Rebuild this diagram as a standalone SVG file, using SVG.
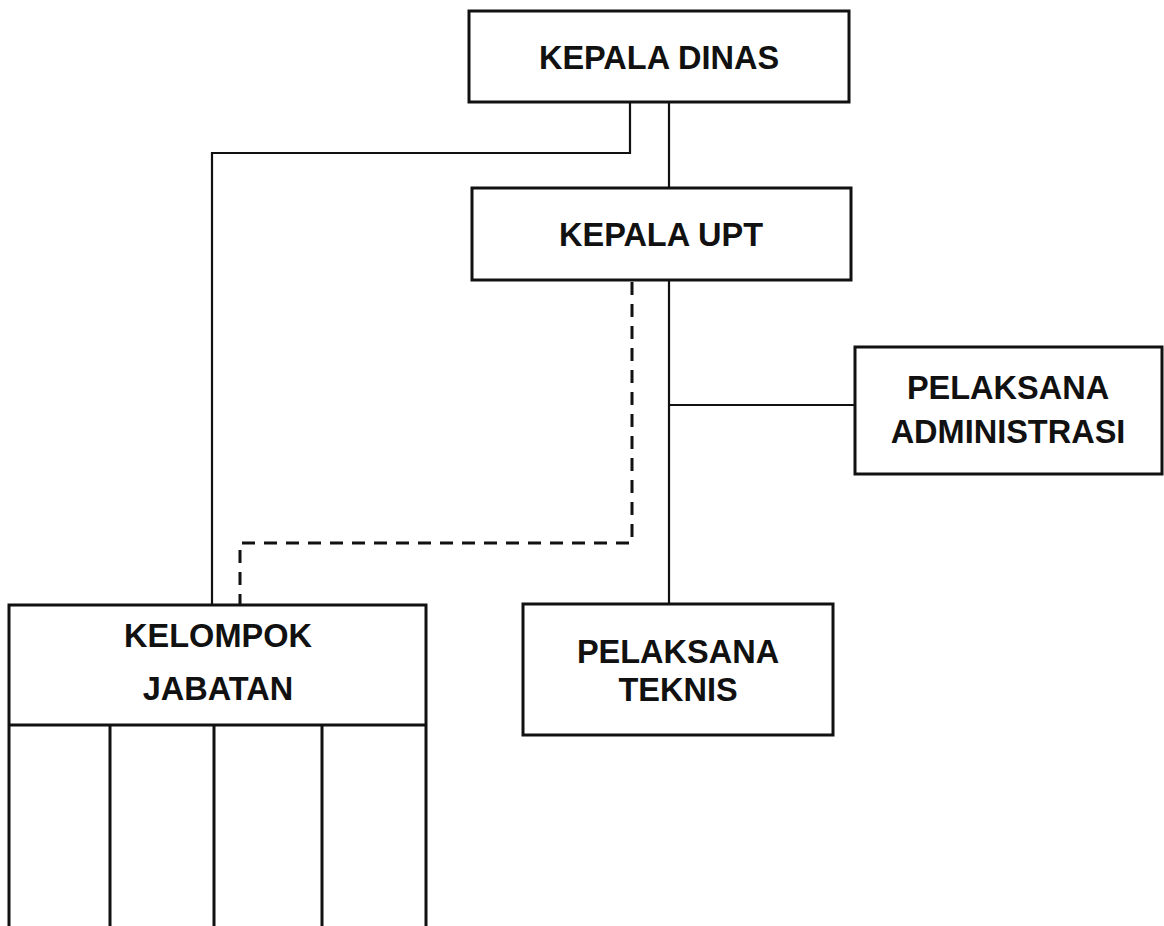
<svg xmlns="http://www.w3.org/2000/svg" width="1164" height="926" viewBox="0 0 1164 926">
<style>
.box{fill:#fff;stroke:#111;stroke-width:3}
.ln{fill:none;stroke:#111;stroke-width:2.2}
.dash{fill:none;stroke:#111;stroke-width:3;stroke-dasharray:13 9}
.t{font-family:"Liberation Sans",Arial,sans-serif;font-weight:bold;font-size:32.5px;fill:#111;text-anchor:middle}
</style>
<rect width="1164" height="926" fill="#fff"/>
<g id="connectors">
<polyline class="ln" points="630,102 630,153 212,153 212,605"/>
<line class="ln" x1="669" y1="102" x2="669" y2="187"/>
<line class="ln" x1="669" y1="280" x2="669" y2="604"/>
<line class="ln" x1="669" y1="405" x2="855" y2="405"/>
<polyline class="dash" points="632,282 632,543 240,543 240,604"/>
</g>
<g id="kepala-dinas">
<rect class="box" x="469" y="11" width="380" height="91"/>
<text class="t" x="659" y="69">KEPALA DINAS</text>
</g>
<g id="kepala-upt">
<rect class="box" x="472" y="188" width="379" height="92"/>
<text class="t" x="661" y="246">KEPALA UPT</text>
</g>
<g id="pelaksana-administrasi">
<rect class="box" x="855" y="347" width="307" height="127"/>
<text class="t" x="1008" y="399">PELAKSANA</text>
<text class="t" x="1008" y="443">ADMINISTRASI</text>
</g>
<g id="pelaksana-teknis">
<rect class="box" x="523" y="604" width="310" height="131"/>
<text class="t" x="678" y="663">PELAKSANA</text>
<text class="t" x="678" y="701">TEKNIS</text>
</g>
<g id="kelompok-jabatan">
<rect class="box" x="9" y="605" width="417" height="340"/>
<line class="box" x1="9" y1="725" x2="426" y2="725"/>
<line class="box" x1="110" y1="725" x2="110" y2="926"/>
<line class="box" x1="214" y1="725" x2="214" y2="926"/>
<line class="box" x1="322" y1="725" x2="322" y2="926"/>
<text class="t" x="218" y="647">KELOMPOK</text>
<text class="t" x="218" y="700">JABATAN</text>
</g>
</svg>
